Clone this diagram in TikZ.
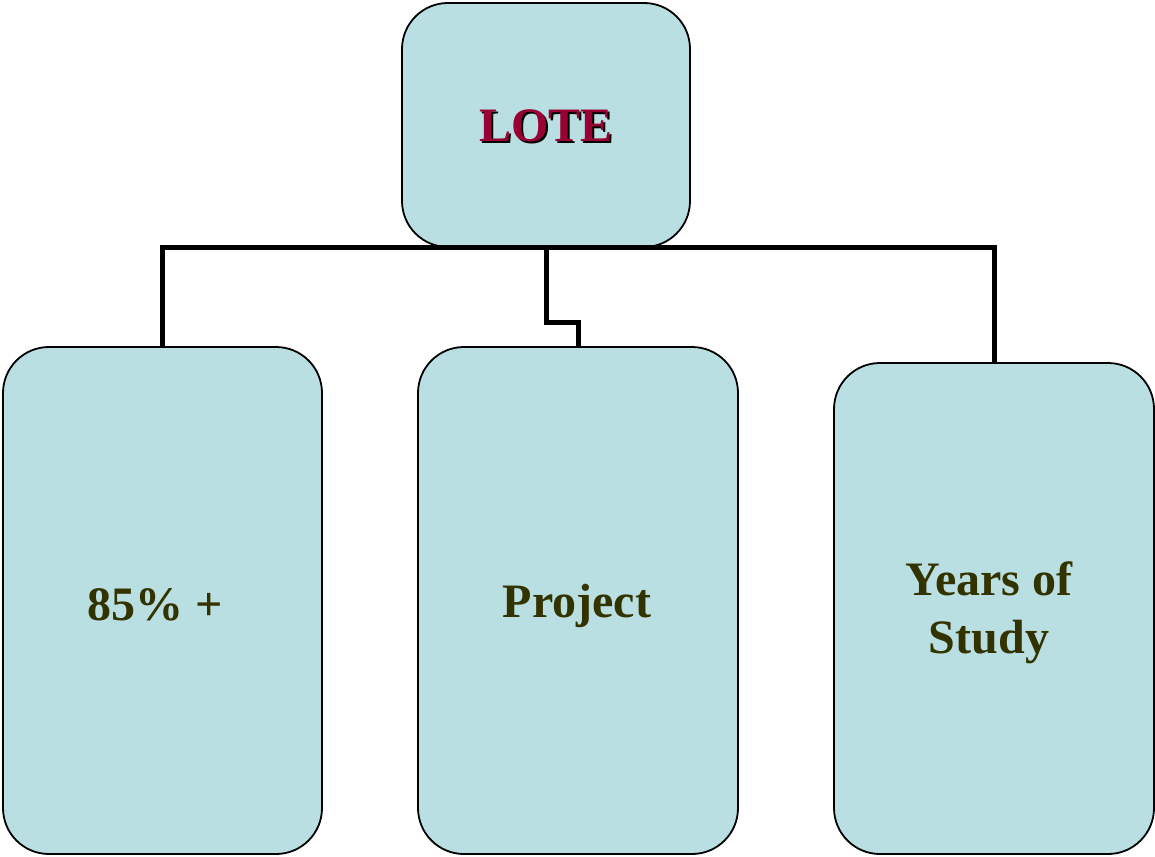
\documentclass[tikz,border=0pt]{standalone}
\usepackage{fontspec}
\setmainfont{Liberation Serif}
\definecolor{boxfill}{HTML}{B9DFE3}
\definecolor{olive}{HTML}{333300}
\definecolor{wine}{HTML}{990033}
\begin{document}
\begin{tikzpicture}[x=1pt,y=-1pt,
  box/.style={draw=black,line width=1.8pt,fill=boxfill,rounded corners=46pt,inner sep=0pt},
  lbl/.style={inner sep=0pt,align=center,font=\fontsize{48}{58}\selectfont\bfseries,text=olive},
  conn/.style={draw=black,line width=5pt}]
\useasboundingbox (0,0) rectangle (1155,856);
\node[box,minimum width=288pt,minimum height=244pt] (lote) at (546,125) {};
\node[lbl,text=black] (lotes) at (548,128) {LOTE};
\node[lbl,text=wine] (lotet) at (546,126) {LOTE};
\node[box,minimum width=319pt,minimum height=507pt] (left) at (162.5,600.5) {};
\node[box,minimum width=320pt,minimum height=507pt] (mid) at (578,600.5) {};
\node[box,minimum width=320pt,minimum height=491pt] (right) at (994,608.5) {};
\node[lbl] (t1) at (155,605) {85\% +};
\node[lbl] (t2) at (577,606) {Project};
\node[lbl] (t3) at (989,613) {Years of\\Study};
\draw[conn] (left.north) |- (lote.south) -| (right.north);
\draw[conn] (lote.south) -- ++(0,75) -| (mid.north);
\end{tikzpicture}
\end{document}
